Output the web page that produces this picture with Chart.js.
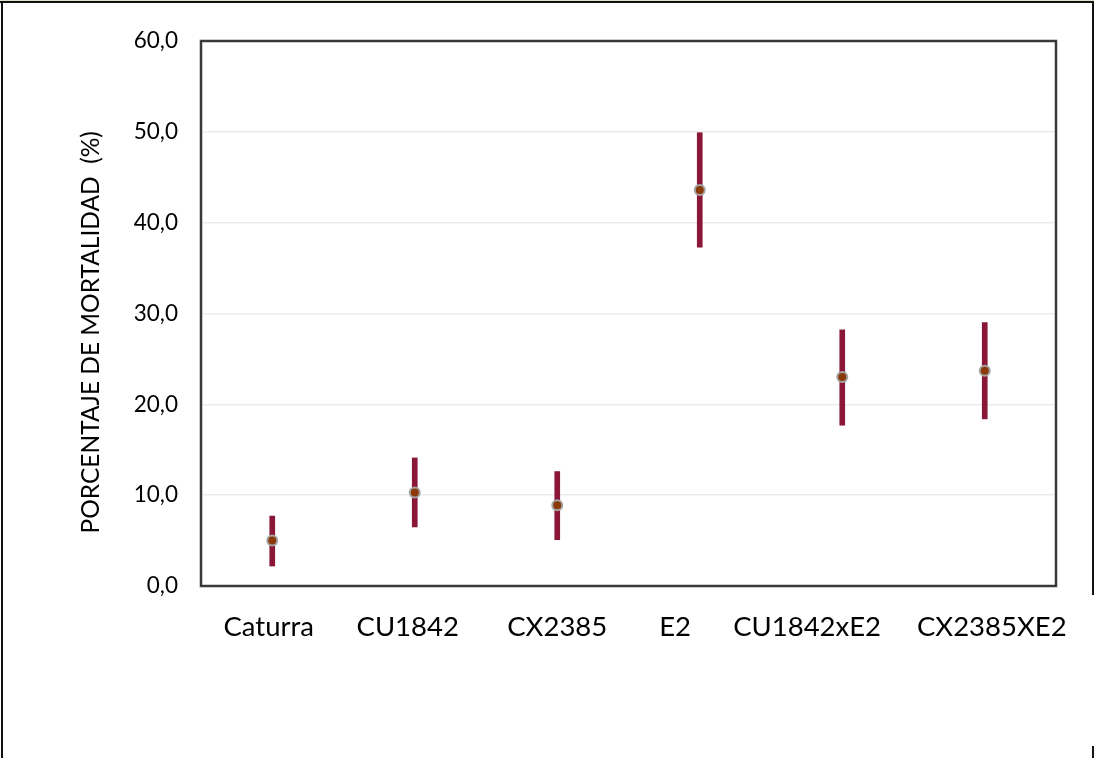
<!DOCTYPE html>
<html>
<head>
<meta charset="utf-8">
<script src="https://cdn.jsdelivr.net/npm/chart.js@4/dist/chart.umd.min.js"></script>
<style>
  html, body { margin: 0; padding: 0; background: #fff; }
  #wrap { position: relative; width: 1094px; height: 758px; }
</style>
</head>
<body>
<div id="wrap"><canvas id="c" width="1094" height="758"></canvas></div>
<script>
// Mortality by genotype: mean and error-bar limits (%)
const categories = ['Caturra', 'CU1842', 'CX2385', 'E2', 'CU1842xE2', 'CX2385XE2'];
const meanValues = [5.0, 10.3, 8.9, 43.6, 23.0, 23.7];
const lowerLimits = [2.2, 6.5, 5.1, 37.3, 17.7, 18.4];
const upperLimits = [7.7, 14.1, 12.6, 49.9, 28.2, 29.0];
const yTicks = [0, 10, 20, 30, 40, 50, 60];

const FONT = 'Lato, "Open Sans", sans-serif';
const NBSP = '\u00a0';
// label nudges (non-breaking spaces before / after each category label)
const labelLead = [0, 0, 0, 0, 0, 2];
const labelTrail = [1, 2, 0, 7, 10, 0];

// Frame around the whole figure and a dark border around the plot area
const framePlugin = {
  id: 'frames',
  afterDraw(chart) {
    const ctx = chart.ctx;
    const a = chart.chartArea;
    ctx.save();
    // plot area border
    ctx.strokeStyle = '#9a9a9a';
    ctx.lineWidth = 3;
    ctx.strokeRect(a.left, a.top, a.right - a.left, a.bottom - a.top);
    ctx.strokeStyle = '#1a1a1a';
    ctx.lineWidth = 1.5;
    ctx.strokeRect(a.left, a.top, a.right - a.left, a.bottom - a.top);
    // outer figure frame
    ctx.fillStyle = '#e4dccd';
    ctx.fillRect(0, 0, 1094, 1);
    ctx.fillStyle = '#111';
    ctx.fillRect(0, 1, 1094, 2);
    ctx.fillRect(1, 1, 2, 758);
    ctx.fillRect(1092, 1, 2, 594);
    ctx.fillRect(1092, 746, 2, 12);
    ctx.restore();
  }
};

new Chart(document.getElementById('c'), {
  type: 'bar',
  data: {
    labels: categories,
    datasets: [
      {
        type: 'bar',
        label: 'rango',
        data: categories.map((_, i) => [lowerLimits[i], upperLimits[i]]),
        backgroundColor: '#8a1638',
        borderWidth: 0,
        barThickness: 5,
        order: 2
      },
      {
        type: 'line',
        label: 'media',
        data: meanValues,
        showLine: false,
        pointRadius: 5,
        pointBackgroundColor: '#8a3a08',
        pointBorderColor: '#a4a4a4',
        pointBorderWidth: 2,
        order: 1
      }
    ]
  },
  plugins: [framePlugin],
  options: {
    responsive: false,
    animation: false,
    devicePixelRatio: 1,
    layout: { padding: { left: 76, top: 41, right: 38, bottom: 0 } },
    plugins: { legend: { display: false }, tooltip: { enabled: false } },
    scales: {
      x: {
        grid: { display: false, drawTicks: false },
        border: { display: false },
        ticks: {
          color: '#000',
          font: { family: FONT, size: 27.5 },
          padding: 25,
          maxRotation: 0,
          autoSkip: false,
          callback: (v, i) => NBSP.repeat(labelLead[i]) + categories[i] + NBSP.repeat(labelTrail[i])
        },
        afterFit(scale) {
          scale.height = 172;
          scale.paddingLeft = 0;
          scale.paddingRight = 0;
        }
      },
      y: {
        min: 0,
        max: 60,
        afterBuildTicks(scale) { scale.ticks = yTicks.map(v => ({ value: v })); },
        grid: {
          color: (c) => (c.tick && (c.tick.value === 0 || c.tick.value === 60)) ? 'rgba(0,0,0,0)' : '#ebebeb',
          lineWidth: 1.5,
          drawTicks: false
        },
        border: { display: false },
        ticks: {
          color: '#000',
          font: { family: FONT, size: 22.5 },
          padding: 23,
          callback: (v) => Number(v).toFixed(1).replace('.', ',')
        },
        title: {
          display: true,
          text: 'PORCENTAJE DE MORTALIDAD  (%)' + NBSP.repeat(6),
          color: '#000',
          font: { family: FONT, size: 24.5 },
          padding: { top: 0, bottom: 0 }
        },
        afterFit(scale) {
          scale.width = 125;
          scale.paddingTop = 0;
          scale.paddingBottom = 0;
        }
      }
    }
  }
});
</script>
</body>
</html>
